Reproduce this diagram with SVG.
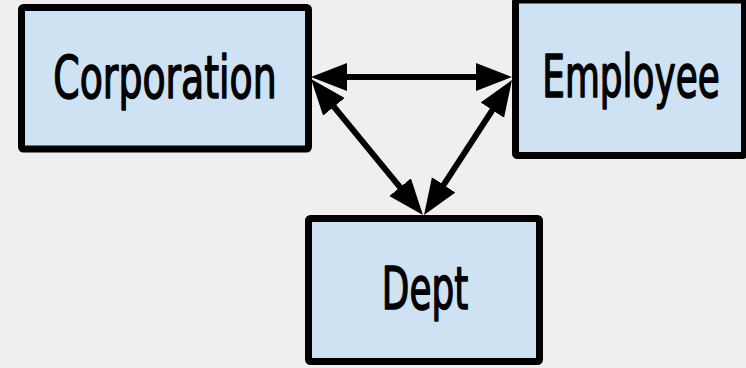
<svg xmlns="http://www.w3.org/2000/svg" width="746" height="368" viewBox="0 0 746 368">
  <defs>
    <style>
      .box { fill: #cfe2f3; stroke: #000000; stroke-width: 7; }
      .lbl { font-family: "DejaVu Sans", "Liberation Sans", sans-serif; font-size: 58px; fill: #000000; stroke: #000000; stroke-width: 1.6; stroke-linejoin: round; text-anchor: middle; }
      .conn { stroke: #000000; stroke-width: 6; fill: none; }
    </style>
    <marker id="ah" markerUnits="userSpaceOnUse" markerWidth="40" markerHeight="30" refX="26" refY="14" orient="auto-start-reverse">
      <path d="M0,0 L36,14 L0,28 z" fill="#000000"/>
    </marker>
  </defs>
  <rect x="0" y="0" width="746" height="368" fill="#efefef"/>
  <g id="connectors">
    <line class="conn" x1="321" y1="77" x2="502" y2="77" marker-start="url(#ah)" marker-end="url(#ah)"/>
    <line class="conn" x1="317.4" y1="86.7" x2="416.6" y2="207.3" marker-start="url(#ah)" marker-end="url(#ah)"/>
    <line class="conn" x1="506.5" y1="88.4" x2="429.5" y2="206.6" marker-start="url(#ah)" marker-end="url(#ah)"/>
  </g>
  <g id="corporation">
    <rect class="box" x="21.5" y="7.5" width="287" height="141.5" rx="2"/>
    <text class="lbl" transform="translate(165,98) scale(0.652,1)" x="0" y="0">Corporation</text>
  </g>
  <g id="employee">
    <rect class="box" x="515.5" y="0" width="229" height="155.5" rx="2"/>
    <text class="lbl" transform="translate(631,97) scale(0.618,1)" x="0" y="0">Employee</text>
  </g>
  <g id="dept">
    <rect class="box" x="308.5" y="218.5" width="231" height="143" rx="2"/>
    <text class="lbl" transform="translate(425,309) scale(0.617,1)" x="0" y="0">Dept</text>
  </g>
</svg>
